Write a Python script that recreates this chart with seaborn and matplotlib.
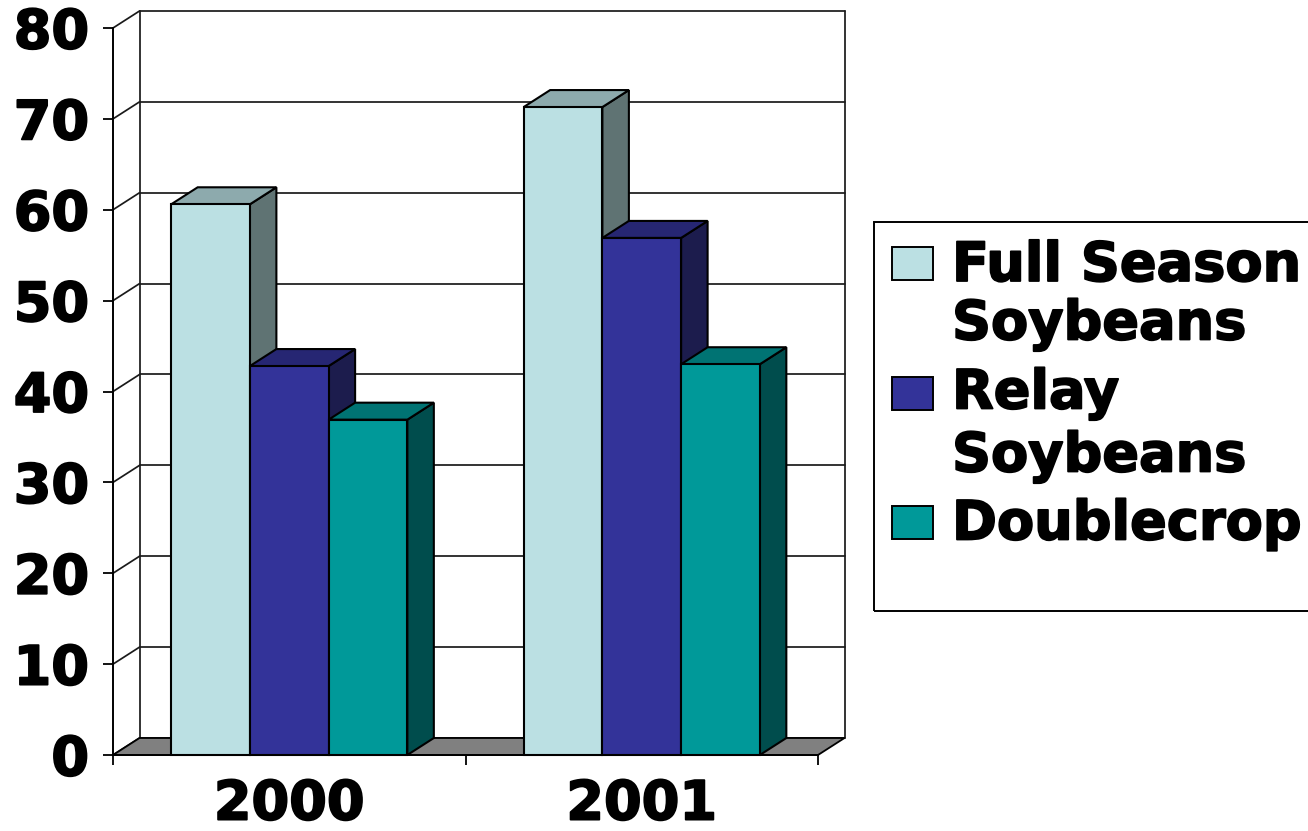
import numpy as np
import pandas as pd
import matplotlib
matplotlib.use("Agg")
import matplotlib.pyplot as plt
import matplotlib.patheffects as pe
from matplotlib.patches import Polygon, Rectangle
import seaborn as sns

# ---- data -------------------------------------------------------------
years = ["2000", "2001"]
systems = ["Full Season Soybeans", "Relay Soybeans", "Doublecrop"]
legend_lines = [["Full Season", "Soybeans"], ["Relay", "Soybeans"], ["Doublecrop"]]
full_season = [60.6, 71.3]
relay = [42.8, 56.9]
doublecrop = [36.9, 43.0]
y_ticks = [0, 10, 20, 30, 40, 50, 60, 70, 80]

# front / top / side shading of each series
front_colors = ["#BBE0E3", "#333399", "#009999"]
top_colors = ["#8DAAAD", "#262673", "#007373"]
side_colors = ["#5F7373", "#1C1C4D", "#004D4D"]

# ---- figure -----------------------------------------------------------
W, H, DPI = 1308, 831, 100
sns.set_theme(style="white")
plt.rcParams["font.family"] = ["DejaVu Sans"]
plt.rcParams["font.weight"] = "bold"
plt.rcParams["text.color"] = "black"

FS = 39
heavy = [pe.withStroke(linewidth=1.3, foreground="black")]

fig = plt.figure(figsize=(W / DPI, H / DPI), dpi=DPI)
fig.patch.set_facecolor("white")

# front plane of the plot box (pixels)
left_px, right_px, top_px, bottom_px = 113, 818, 28, 755
ax = fig.add_axes([left_px / W, 1 - bottom_px / H,
                   (right_px - left_px) / W, (bottom_px - top_px) / H])
ax.set_facecolor("none")

rows = []
for name, vals in zip(systems, [full_season, relay, doublecrop]):
    for yr, v in zip(years, vals):
        rows.append((yr, name, v))
df = pd.DataFrame(rows, columns=["Year", "System", "Yield"])

EDGE_LW = 1.5
sns.barplot(data=df, x="Year", y="Yield", hue="System", order=years,
            hue_order=systems, palette=front_colors, saturation=1,
            width=0.67, edgecolor="black", linewidth=EDGE_LW, errorbar=None,
            legend=False, ax=ax)
bars = list(ax.patches)

ymax = y_ticks[-1]
ax.set_xlim(-0.5, len(years) - 0.5)
ax.set_ylim(0, ymax)

# depth offset of the 3-D box, converted to data units
depth_px = (26.5, 17.0)
ddx = depth_px[0] / (right_px - left_px) * len(years)
ddy = depth_px[1] / (bottom_px - top_px) * ymax

x0, x1 = -0.5, len(years) - 0.5
line_kw = dict(color="#1a1a1a", lw=1.25, clip_on=False, zorder=1)
for v in y_ticks:
    ax.plot([x0, x0 + ddx], [v, v + ddy], **line_kw)              # side wall
    ax.plot([x0 + ddx, x1 + ddx], [v + ddy, v + ddy], **line_kw)  # back wall
ax.plot([x0 + ddx, x0 + ddx], [ddy, ymax + ddy], **line_kw)
ax.plot([x1 + ddx, x1 + ddx], [ddy, ymax + ddy], **line_kw)

floor = Polygon([(x0, 0), (x1, 0), (x1 + ddx, ddy), (x0 + ddx, ddy)],
                closed=True, facecolor="#808080", edgecolor="black",
                lw=1.3, clip_on=False, zorder=1.5)
ax.add_patch(floor)

# extrude each bar: top and right-hand faces
order = sorted(range(len(bars)), key=lambda i: bars[i].get_x())
for rank, i in enumerate(order):
    p = bars[i]
    hue_idx = i // len(years)
    x, w, h = p.get_x(), p.get_width(), p.get_height()
    base = 3 + rank * 0.1
    top = Polygon([(x, h), (x + w, h), (x + w + ddx, h + ddy), (x + ddx, h + ddy)],
                  closed=True, facecolor=top_colors[hue_idx], edgecolor="black",
                  lw=EDGE_LW, clip_on=False, zorder=base, joinstyle="miter")
    side = Polygon([(x + w, 0), (x + w + ddx, ddy), (x + w + ddx, h + ddy), (x + w, h)],
                   closed=True, facecolor=side_colors[hue_idx], edgecolor="black",
                   lw=EDGE_LW, clip_on=False, zorder=base, joinstyle="miter")
    ax.add_patch(side)
    ax.add_patch(top)
    p.set_zorder(base + 0.05)
    p.set_clip_on(False)

# ---- axes, ticks ------------------------------------------------------
for s in ("top", "right"):
    ax.spines[s].set_visible(False)
for s in ("left", "bottom"):
    ax.spines[s].set_color("black")
    ax.spines[s].set_linewidth(1.4)
    ax.spines[s].set_zorder(2)

ax.set_yticks(y_ticks, labels=[str(t) for t in y_ticks])
ax.set_xticks([x0 + k for k in range(len(years) + 1)],
              labels=[""] * (len(years) + 1))
ax.set_xticks(range(len(years)), labels=years, minor=True)
ax.tick_params(axis="y", left=True, direction="out", length=7.2, width=1.3,
               color="black", pad=10.0, labelsize=FS, labelcolor="black")
ax.tick_params(axis="x", which="major", bottom=True, direction="out",
               length=7.2, width=1.3, color="black")
ax.tick_params(axis="x", which="minor", bottom=True, length=0, pad=17,
               labelsize=FS, labelcolor="black")
for t in ax.get_xticklabels(minor=True) + ax.get_yticklabels():
    t.set_fontweight("bold")
    t.set_path_effects(heavy)
ax.set_xlabel("")
ax.set_ylabel("")

# ---- legend -----------------------------------------------------------
def fx(px):
    return px / W

def fy(py):
    return 1 - py / H

fig.add_artist(Rectangle((fx(874), fy(611)), fx(1340) - fx(874), fy(222) - fy(611),
                         transform=fig.transFigure, fill=False,
                         edgecolor="black", lw=1.4))
square_tops = [247, 377, 506]
baselines = [[281, 339.5], [408.5, 471.5], [539.5]]
for k in range(len(systems)):
    fig.add_artist(Rectangle((fx(892), fy(square_tops[k] + 32.5)),
                             fx(933) - fx(892), fy(square_tops[k]) - fy(square_tops[k] + 32.5),
                             transform=fig.transFigure, facecolor=front_colors[k],
                             edgecolor="black", lw=1.4))
    for line, b in zip(legend_lines[k], baselines[k]):
        fig.text(fx(952), fy(b), line, fontsize=FS, fontweight="bold",
                 ha="left", va="baseline", color="black", path_effects=heavy)

fig.savefig("out.png", dpi=DPI, facecolor="white")
